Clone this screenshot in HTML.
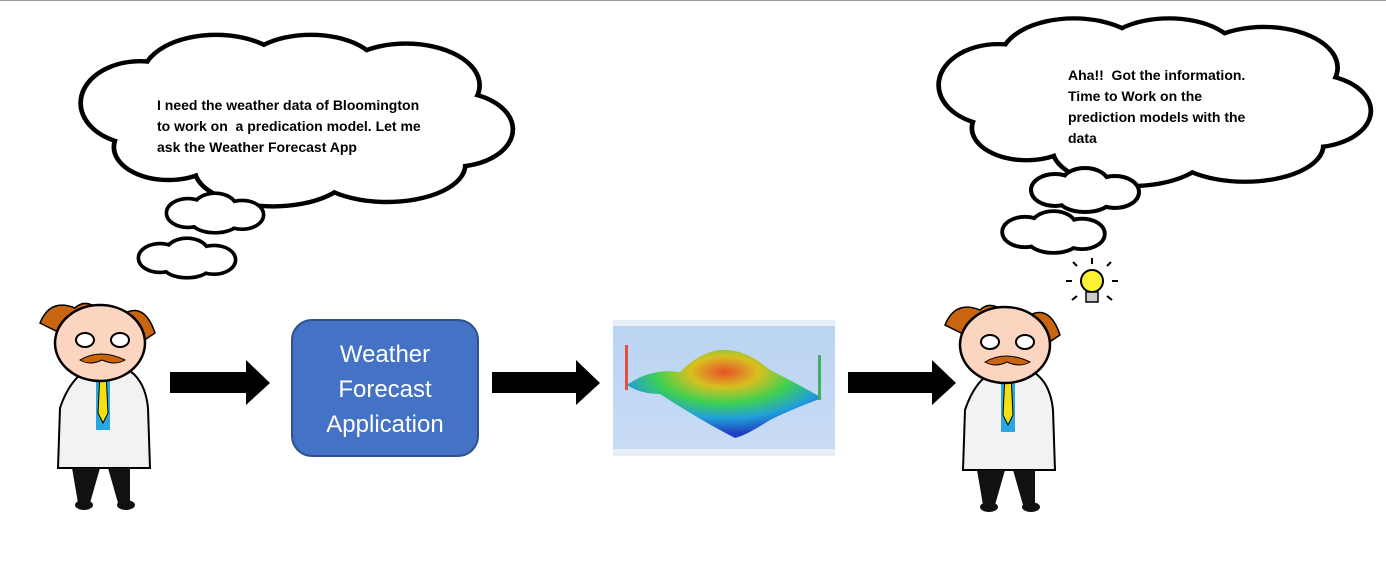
<!DOCTYPE html>
<html><head><meta charset="utf-8"><style>
html,body{margin:0;padding:0;background:#fff;}
body{width:1386px;height:573px;overflow:hidden;position:relative;font-family:"Liberation Sans",sans-serif;}
svg{position:absolute;left:0;top:0;}
.t{position:absolute;font-weight:bold;font-size:14px;line-height:21px;color:#000;}
</style></head><body>
<svg width="1386" height="573" viewBox="0 0 1386 573">
<defs>
<linearGradient id="sky" x1="0" y1="0" x2="0" y2="1"><stop offset="0" stop-color="#b9d3f2"/><stop offset="1" stop-color="#c9dcf5"/></linearGradient>
<radialGradient id="hill" cx="0.5" cy="0.25" r="0.7"><stop offset="0" stop-color="#e8502a"/><stop offset="0.25" stop-color="#d8c020"/><stop offset="0.5" stop-color="#40d050"/><stop offset="0.75" stop-color="#20a0d8"/><stop offset="1" stop-color="#2040c0"/></radialGradient>
<g id="sci">
 <path d="M30 110 Q40 80 60 70 L95 70 Q115 80 118 110 L120 170 L28 170 Z" fill="#f2f2f2" stroke="#000" stroke-width="2"/>
 <rect x="66" y="72" width="14" height="60" fill="#27a8e0"/>
 <path d="M70 74 L76 74 L78 115 L73 125 L68 115 Z" fill="#f4e012" stroke="#000" stroke-width="1"/>
 <path d="M42 170 L48 205 L60 205 L70 170 Z M78 170 L88 205 L100 205 L100 170 Z" fill="#111"/>
 <ellipse cx="54" cy="207" rx="9" ry="5" fill="#111"/><ellipse cx="96" cy="207" rx="9" ry="5" fill="#111"/>
 <path d="M10 25 Q20 0 45 10 Q55 0 70 12 L40 40 Z M95 15 Q115 5 125 35 L110 45 Z" fill="#c8650e" stroke="#000" stroke-width="1.5"/>
 <ellipse cx="70" cy="45" rx="45" ry="38" fill="#fcd5c0" stroke="#000" stroke-width="2.5"/>
 <ellipse cx="55" cy="42" rx="9" ry="7" fill="#fff" stroke="#000" stroke-width="2"/>
 <ellipse cx="90" cy="42" rx="9" ry="7" fill="#fff" stroke="#000" stroke-width="2"/>
 <path d="M50 62 Q70 50 95 62 Q85 68 72 62 Q60 68 50 62 Z" fill="#c8650e" stroke="#000" stroke-width="1"/>
</g>
<g id="cloudBig">
 <g stroke="#000" stroke-width="10" fill="#fff">
  <ellipse cx="0" cy="0" rx="60" ry="45"/><ellipse cx="80" cy="-30" rx="75" ry="45"/><ellipse cx="180" cy="-35" rx="70" ry="40"/>
  <ellipse cx="280" cy="-20" rx="75" ry="45"/><ellipse cx="330" cy="30" rx="60" ry="40"/><ellipse cx="260" cy="70" rx="80" ry="40"/>
  <ellipse cx="140" cy="75" rx="80" ry="40"/><ellipse cx="30" cy="50" rx="55" ry="35"/>
 </g>
 <g fill="#fff">
  <ellipse cx="0" cy="0" rx="60" ry="45"/><ellipse cx="80" cy="-30" rx="75" ry="45"/><ellipse cx="180" cy="-35" rx="70" ry="40"/>
  <ellipse cx="280" cy="-20" rx="75" ry="45"/><ellipse cx="330" cy="30" rx="60" ry="40"/><ellipse cx="260" cy="70" rx="80" ry="40"/>
  <ellipse cx="140" cy="75" rx="80" ry="40"/><ellipse cx="30" cy="50" rx="55" ry="35"/><rect x="20" y="-20" width="300" height="90"/>
 </g>
</g>
<g id="cloudSm">
 <g stroke="#000" stroke-width="8" fill="#fff"><ellipse cx="0" cy="0" rx="22" ry="14"/><ellipse cx="30" cy="-6" rx="22" ry="14"/><ellipse cx="60" cy="2" rx="22" ry="14"/><ellipse cx="30" cy="8" rx="25" ry="12"/></g>
 <g fill="#fff"><ellipse cx="0" cy="0" rx="22" ry="14"/><ellipse cx="30" cy="-6" rx="22" ry="14"/><ellipse cx="60" cy="2" rx="22" ry="14"/><ellipse cx="30" cy="8" rx="25" ry="12"/></g>
</g>
</defs>
<line x1="0" y1="0.5" x2="1386" y2="0.5" stroke="#999" stroke-width="1"/>
<use href="#cloudBig" transform="translate(140,103) scale(0.95,0.88)"/>
<use href="#cloudSm" transform="translate(188,213) scale(0.9)"/>
<use href="#cloudSm" transform="translate(160,258) scale(0.9)"/>
<use href="#cloudBig" transform="translate(998,85) scale(0.95,0.86)"/>
<use href="#cloudSm" transform="translate(1055,190)"/>
<use href="#cloudSm" transform="translate(1025,232) scale(0.95)"/>
<use href="#sci" transform="translate(30,298)"/>
<use href="#sci" transform="translate(935,300)"/>
<circle cx="1092" cy="281" r="11" fill="#fef035" stroke="#000" stroke-width="2"/>
<rect x="1086" y="292" width="12" height="10" fill="#ccc" stroke="#000" stroke-width="1.5"/>
<g stroke="#000" stroke-width="2"><line x1="1092" y1="258" x2="1092" y2="264"/><line x1="1072" y1="281" x2="1066" y2="281"/><line x1="1112" y1="281" x2="1118" y2="281"/><line x1="1077" y1="266" x2="1073" y2="262"/><line x1="1107" y1="266" x2="1111" y2="262"/><line x1="1077" y1="296" x2="1072" y2="300"/><line x1="1107" y1="296" x2="1112" y2="300"/></g>
<g fill="#000">
<path d="M170 372 L246 372 L246 360 L270 383 L246 405 L246 393 L170 393 Z"/>
<path d="M492 372 L576 372 L576 360 L600 383 L576 405 L576 393 L492 393 Z"/>
<path d="M848 372 L932 372 L932 360 L956 383 L932 405 L932 393 L848 393 Z"/>
</g>
<rect x="292" y="320" width="186" height="136" rx="20" fill="#4472c4" stroke="#2f528f" stroke-width="2"/>
<text x="385" y="362" font-family="Liberation Sans" font-size="24" fill="#fff" text-anchor="middle">Weather</text>
<text x="385" y="397" font-family="Liberation Sans" font-size="24" fill="#fff" text-anchor="middle">Forecast</text>
<text x="385" y="432" font-family="Liberation Sans" font-size="24" fill="#fff" text-anchor="middle">Application</text>
<rect x="613" y="320" width="222" height="136" fill="url(#sky)"/>
<rect x="613" y="320" width="222" height="6" fill="#e8eef8"/>
<rect x="613" y="449" width="222" height="7" fill="#e8eef8"/>
<path d="M627 385 Q650 368 680 372 Q700 352 720 350 Q745 348 770 370 Q800 385 822 398 Q790 410 770 420 Q745 436 735 438 Q700 420 660 394 Q640 394 627 385 Z" fill="url(#hill)"/>
<rect x="625" y="345" width="3" height="45" fill="#e0503a"/><rect x="818" y="355" width="3" height="45" fill="#40b060"/>
</svg>
<div class="t" style="left:157px;top:95px;">I need the weather data of Bloomington<br>to work on&nbsp; a predication model. Let me<br>ask the Weather Forecast App</div>
<div class="t" style="left:1068px;top:65px;">Aha!!&nbsp; Got the information.<br>Time to Work on the<br>prediction models with the<br>data</div>
</body></html>
